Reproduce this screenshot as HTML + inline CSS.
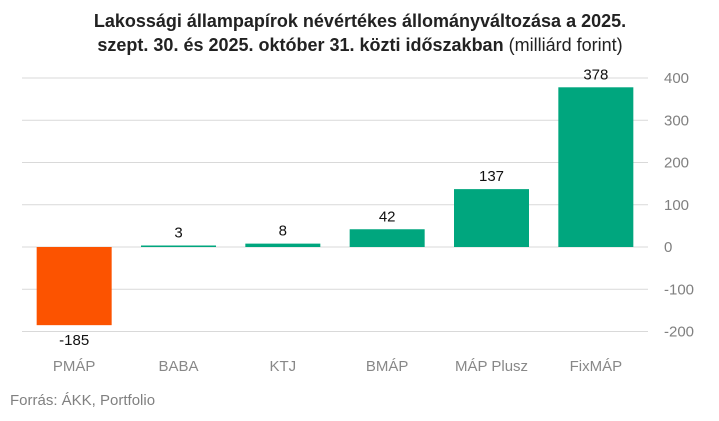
<!DOCTYPE html>
<html><head><meta charset="utf-8">
<style>
body{margin:0;background:#fff;font-family:"Liberation Sans",sans-serif;}
svg text{font-family:"Liberation Sans",sans-serif;}
</style></head>
<body>
<svg id="chart" width="719" height="416">
<text x="360" y="27" text-anchor="middle" font-size="18" font-weight="bold" fill="#222">Lakossági állampapírok névértékes állományváltozása a 2025.</text>
<text x="360" y="51" text-anchor="middle" font-size="18" fill="#222"><tspan font-weight="bold">szept. 30. és 2025. október 31. közti időszakban</tspan> (milliárd forint)</text>
<g id="grid"></g>
<g id="bars"></g>
<text x="10" y="405" font-size="15" fill="#808080">Forrás: ÁKK, Portfolio</text>
</svg>
<script>
const categories=["PMÁP","BABA","KTJ","BMÁP","MÁP Plusz","FixMÁP"];
const values=[-185,3,8,42,137,378];
const ticks=[400,300,200,100,0,-100,-200];
const ns="http://www.w3.org/2000/svg";
const x0=22,x1=648,zeroY=247,pxPer=0.4225;
const y=v=>zeroY-v*pxPer;
const band=(x1-x0)/categories.length;
const grid=document.getElementById('grid'),bars=document.getElementById('bars');
function mk(tag,attrs,parent,txt){const e=document.createElementNS(ns,tag);for(const k in attrs)e.setAttribute(k,attrs[k]);if(txt!==undefined)e.textContent=txt;parent.appendChild(e);return e;}
ticks.forEach(t=>{
  const l=mk('line',{x1:x0,x2:x1,y1:y(t),y2:y(t),stroke:'#d9d9d9','stroke-width':1},grid);
  
  
  const tx=mk('text',{x:664,y:y(t)+5,'font-size':15,fill:'#808080'},grid,String(t));
  
  
});
categories.forEach((c,i)=>{
  const v=values[i];
  const cx=x0+band*(i+0.5),w=75;
  const top=Math.min(y(v),y(0)),h=Math.max(Math.abs(y(v)-y(0)),1.5);
  const r=mk('rect',{x:cx-w/2,y:v>=0?y(0)-h:top,width:w,height:h,fill:v<0?'#fc5300':'#00a67e'},bars);
  
  
  const ly=v>=0?y(v)-8:y(v)+20;
  const t=mk('text',{x:cx,y:ly,'text-anchor':'middle','font-size':15,fill:'#111'},bars,String(v));
  
  
  const cl=mk('text',{x:cx,y:371,'text-anchor':'middle','font-size':15,fill:'#888'},bars,c);
  
  
});
</script>
</body></html>
